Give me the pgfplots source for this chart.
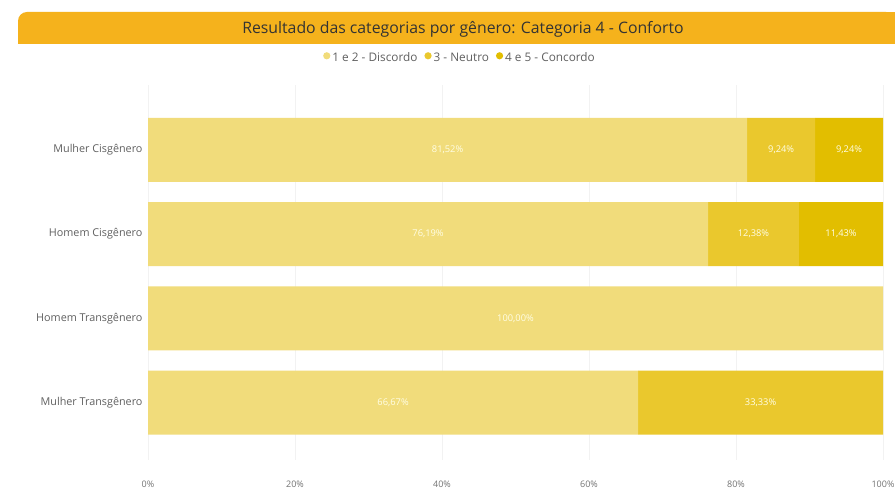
\documentclass[border=0pt]{standalone}
\usepackage{fontspec}
\setmainfont{Open Sans}
\usepackage{pgfplots}
\pgfplotsset{compat=1.18}
\definecolor{cA}{HTML}{F1DC7B}
\definecolor{cB}{HTML}{EAC82D}
\definecolor{cC}{HTML}{E2BE00}
\definecolor{bar}{HTML}{F5B21C}
\definecolor{txt}{HTML}{606060}
\begin{document}
\begin{tikzpicture}
\fill[white] (0pt,0pt) rectangle (895pt,493pt);
% title bar
\fill[bar, rounded corners=9pt] (18pt,449pt) -- (18pt,481pt) -- (895pt,481pt) -- (895pt,449pt) -- cycle;
\fill[bar] (18pt,449pt) rectangle (40pt,460pt);
\fill[bar] (880pt,449pt) rectangle (895pt,481pt);
\node[text=black!80, font=\fontsize{15.8}{17}\selectfont] at (463pt,464pt) {Resultado das categorias por gênero: Categoria 4 - Conforto};
\begin{axis}[
  at={(148pt,33pt)}, anchor=south west,
  scale only axis, width=735pt, height=375pt,
  xbar stacked, bar width=64pt,
  xmin=0, xmax=100, ymin=-0.68, ymax=3.77,
  ytick={0,1,2,3},
  yticklabels={Mulher Transgênero, Homem Transgênero, Homem Cisgênero, Mulher Cisgênero},
  xtick={0,20,40,60,80,100},
  xticklabels={0\%,20\%,40\%,60\%,80\%,100\%},
  axis line style={draw=none},
  major tick length=0pt,
  xmajorgrids, major grid style={draw=black!5, line width=0.6pt},
  ymajorgrids=false,
  ticklabel style={text=txt},
  yticklabel style={font=\fontsize{10.8}{12}\selectfont, xshift=-2pt},
  xticklabel style={font=\fontsize{9}{10}\selectfont, yshift=-17pt, text=black!55},
  legend style={at={(0.4245,1.072)}, anchor=center, draw=none, fill=none,
    font=\fontsize{11.8}{13}\selectfont, text=txt, legend columns=-1,
    /tikz/every even column/.append style={column sep=5pt}},
  legend cell align=left,
]
\addplot[fill=cA, draw=none, legend image code/.code={\fill[cA] (0.25em,2.2pt) circle (3.6pt);}] coordinates {(66.67,0) (100,1) (76.19,2) (81.52,3)};
\addlegendentry{1 e 2 - Discordo}
\addplot[fill=cB, draw=none, legend image code/.code={\fill[cB] (0.25em,2.2pt) circle (3.6pt);}] coordinates {(33.33,0) (0,1) (12.38,2) (9.24,3)};
\addlegendentry{3 - Neutro}
\addplot[fill=cC, draw=none, legend image code/.code={\fill[cC] (0.25em,2.2pt) circle (3.6pt);}] coordinates {(0,0) (0,1) (11.43,2) (9.24,3)};
\addlegendentry{4 e 5 - Concordo}
\end{axis}
\begin{axis}[
  at={(148pt,33pt)}, anchor=south west,
  scale only axis, width=735pt, height=375pt,
  xmin=0, xmax=100, ymin=-0.68, ymax=3.77,
  hide axis,
]
\addplot[only marks, mark=*, mark size=0pt, mark options={draw=none,fill=none},
  nodes near coords, point meta=explicit symbolic,
  nodes near coords align=center,
  every node near coord/.append style={font=\fontsize{9.3}{10}\selectfont, text=white!90!yellow, anchor=center}]
  coordinates {
  (40.76,3) [81,52\%] (86.14,3) [9,24\%] (95.38,3) [9,24\%]
  (38.10,2) [76,19\%] (82.38,2) [12,38\%] (94.29,2) [11,43\%]
  (50,1) [100,00\%]
  (33.34,0) [66,67\%] (83.34,0) [33,33\%]
  };
\end{axis}
\pgfresetboundingbox
\useasboundingbox (0pt,0pt) rectangle (895pt,493pt);
\end{tikzpicture}
\end{document}
